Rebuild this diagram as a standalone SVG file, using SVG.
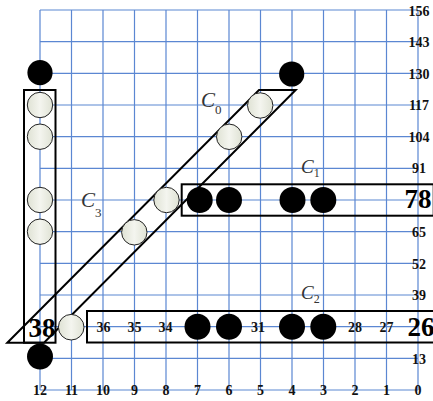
<svg xmlns="http://www.w3.org/2000/svg" width="433" height="401" viewBox="0 0 433 401">
<defs>
<linearGradient id="wg" x1="0" y1="0" x2="1" y2="0">
<stop offset="0" stop-color="#dfe2d4"/>
<stop offset="0.5" stop-color="#f4f5ef"/>
<stop offset="1" stop-color="#dfe2d4"/>
</linearGradient>
</defs>
<style>
.g{stroke:#5b87d2;stroke-width:1.2;fill:none}
.ax{font-family:"Liberation Serif",serif;font-weight:bold;font-size:14px;fill:#111;text-anchor:middle}
.big{font-family:"Liberation Serif",serif;font-weight:bold;font-size:27px;fill:#000;text-anchor:middle}
.num{font-family:"Liberation Serif",serif;font-weight:bold;font-size:14px;fill:#111;text-anchor:middle}
.box{fill:none;stroke:#000;stroke-width:2}
.w{fill:url(#wg);stroke:#222;stroke-width:1}
.b{fill:#000}
.cl{font-family:"Liberation Serif",serif;font-style:italic;fill:#333}
.sub{font-style:normal}
</style>
<g id="grid">
<path class="g" d="M40 10V390M71.5 10V390M103 10V390M134.5 10V390M166 10V390M197.5 10V390M229 10V390M260.5 10V390M292 10V390M323.5 10V390M355 10V390M386.5 10V390M418 10V390"/>
<path class="g" d="M40 10H418M40 41.67H418M40 73.33H418M40 105H418M40 136.67H418M40 168.33H418M40 200H418M40 231.67H418M40 263.33H418M40 295H418M40 326.67H418M40 358.33H418M40 390H418"/>
</g>
<g id="axis-x">
<text class="ax" x="40" y="395">12</text>
<text class="ax" x="71.5" y="395">11</text>
<text class="ax" x="103" y="395">10</text>
<text class="ax" x="134.5" y="395">9</text>
<text class="ax" x="166" y="395">8</text>
<text class="ax" x="197.5" y="395">7</text>
<text class="ax" x="229" y="395">6</text>
<text class="ax" x="260.5" y="395">5</text>
<text class="ax" x="292" y="395">4</text>
<text class="ax" x="323.5" y="395">3</text>
<text class="ax" x="355" y="395">2</text>
<text class="ax" x="386.5" y="395">1</text>
<text class="ax" x="418" y="395">0</text>
</g>
<g id="axis-y">
<text class="ax" x="419" y="15.5">156</text>
<text class="ax" x="419" y="47">143</text>
<text class="ax" x="419" y="78.5">130</text>
<text class="ax" x="419" y="110">117</text>
<text class="ax" x="419" y="141.5">104</text>
<text class="ax" x="419" y="173">91</text>
<text class="ax" x="419" y="268.5">52</text>
<text class="ax" x="419" y="236.5">65</text>
<text class="ax" x="419" y="300">39</text>
<text class="ax" x="419" y="363.5">13</text>
</g>
<g id="connectors">
<path class="box" d="M7.3 342.7L259 90H295.7L44 342.7Z"/>
</g>
<g id="C3">
<rect class="box" x="24" y="90" width="31.5" height="252.7"/>
<circle class="w" cx="40" cy="105" r="12.7"/>
<circle class="w" cx="40" cy="136.7" r="12.7"/>
<circle class="w" cx="40" cy="200" r="12.7"/>
<circle class="w" cx="40" cy="231.7" r="12.7"/>
<text class="big" x="42" y="336.5">38</text>
<text class="cl" x="81" y="206.7" font-size="21">C<tspan class="sub" font-size="13" dy="10">3</tspan></text>
</g>
<g id="C0">
<circle class="w" cx="71.2" cy="327.2" r="12.8"/>
<circle class="w" cx="134.3" cy="232.3" r="12.7"/>
<circle class="w" cx="166.5" cy="200" r="12.7"/>
<circle class="w" cx="229.2" cy="136.8" r="12.7"/>
<circle class="w" cx="260.2" cy="105.5" r="12.7"/>
<text class="cl" x="201" y="107.3" font-size="21">C<tspan class="sub" font-size="13" dy="7">0</tspan></text>
</g>
<g id="C1">
<rect class="box" x="181.7" y="184.3" width="252" height="31.4"/>
<circle class="b" cx="199.7" cy="200" r="13"/>
<circle class="b" cx="229" cy="200" r="13"/>
<circle class="b" cx="292.5" cy="200" r="13"/>
<circle class="b" cx="323.3" cy="200" r="13"/>
<text class="big" x="418" y="207.5">78</text>
<text class="cl" x="301" y="172.7" font-size="19">C<tspan class="sub" font-size="12" dy="4">1</tspan></text>
</g>
<g id="C2">
<rect class="box" x="87" y="311" width="347" height="31.5"/>
<text class="num" x="103.5" y="331.5">36</text>
<text class="num" x="134.5" y="331.5">35</text>
<text class="num" x="165.5" y="331.5">34</text>
<circle class="b" cx="197.5" cy="326.7" r="13"/>
<circle class="b" cx="229" cy="326.7" r="13"/>
<text class="num" x="258" y="331.5">31</text>
<circle class="b" cx="292" cy="326.7" r="13"/>
<circle class="b" cx="323.3" cy="326.7" r="13"/>
<text class="num" x="355" y="331.5">28</text>
<text class="num" x="386.5" y="331.5">27</text>
<text class="big" x="421" y="335.5">26</text>
<text class="cl" x="301" y="299" font-size="19">C<tspan class="sub" font-size="12" dy="4">2</tspan></text>
</g>
<g id="free-points">
<circle class="b" cx="40" cy="72.7" r="12.6"/>
<circle class="b" cx="291.7" cy="74" r="12.6"/>
<circle class="b" cx="40" cy="356.5" r="13"/>
</g>
</svg>
